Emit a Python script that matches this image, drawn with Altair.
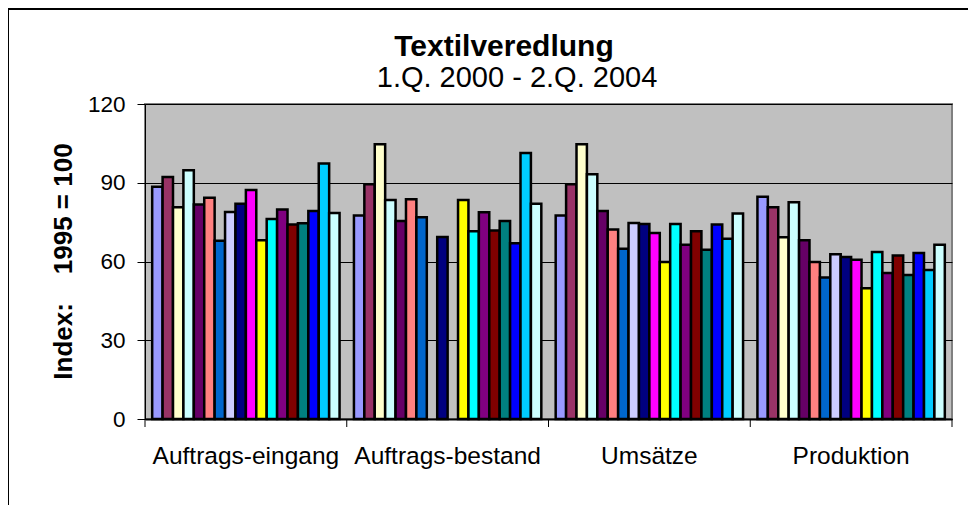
import altair as alt
import pandas as pd

groups = ["Auftrags-eingang", "Auftrags-bestand", "Umsätze", "Produktion"]
quarters = ["1.Q. 2000", "2.Q. 2000", "3.Q. 2000", "4.Q. 2000",
            "1.Q. 2001", "2.Q. 2001", "3.Q. 2001", "4.Q. 2001",
            "1.Q. 2002", "2.Q. 2002", "3.Q. 2002", "4.Q. 2002",
            "1.Q. 2003", "2.Q. 2003", "3.Q. 2003", "4.Q. 2003",
            "1.Q. 2004", "2.Q. 2004"]
colors = ["#9999FF", "#993366", "#FFFFCC", "#CCFFFF", "#660066", "#FF8080",
          "#0066CC", "#CCCCFF", "#000080", "#FF00FF", "#FFFF00", "#00FFFF",
          "#800080", "#800000", "#008080", "#0000FF", "#00CCFF", "#CCFFFF"]

auftragseingang = [88.5, 92.2, 80.7, 94.8, 81.7, 84.3, 67.9, 78.9, 82.0,
                   87.2, 68.1, 76.2, 79.8, 74.1, 74.6, 79.2, 97.3, 78.5]
auftragsbestand = [77.5, 89.4, 104.7, 83.4, 75.4, 83.7, 76.9, None, 69.3,
                   None, 83.4, 71.5, 78.8, 71.8, 75.4, 67.0, 101.3, 82.0]
umsaetze = [77.5, 89.4, 104.7, 93.2, 79.2, 72.2, 64.9, 74.7, 74.3,
            70.9, 59.8, 74.3, 66.4, 71.5, 64.5, 74.1, 68.7, 78.3]
produktion = [84.7, 80.7, 69.2, 82.6, 68.1, 59.8, 53.9, 62.8, 61.7,
              60.7, 49.8, 63.6, 55.6, 62.3, 54.9, 63.2, 56.8, 66.4]

series = [auftragseingang, auftragsbestand, umsaetze, produktion]
rows = []
for g, vals in zip(groups, series):
    for q, v in zip(quarters, vals):
        if v is not None:
            rows.append({"group": g, "quarter": q, "value": v})
df = pd.DataFrame(rows)

W, H = 807, 315
FONT = "Liberation Sans"

xscale = alt.Scale(domain=groups, paddingInner=0, paddingOuter=0)

bars = alt.Chart(df).mark_bar(stroke="black", strokeWidth=2.5).encode(
    x=alt.X("group:N", scale=xscale, sort=groups,
            axis=alt.Axis(title=None, labelAngle=0, ticks=False, labelPadding=44,
                          labelBaseline="alphabetic",
                          labelFontSize=24.5, labelFont=FONT, labelColor="black",
                          domainColor="black", domainWidth=2, labelLimit=400)),
    xOffset=alt.XOffset("quarter:N", sort=quarters,
                        scale=alt.Scale(domain=quarters, paddingOuter=0.69, paddingInner=0)),
    y=alt.Y("value:Q", scale=alt.Scale(domain=[0, 120], nice=False),
            axis=alt.Axis(values=[0, 30, 60, 90, 120], grid=True, gridColor="black",
                          gridWidth=1, tickColor="black", tickSize=8,
                          domainColor="black", domainWidth=1,
                          labelFontSize=22.5, labelFont=FONT, labelColor="black",
                          labelPadding=12,
                          title="Index:\u00a0\u00a0\u00a0\u00a01995 = 100",
                          titleFont=FONT, titleFontSize=26, titleFontWeight="bold",
                          titleColor="black", titleAngle=-90,
                          titleX=-82, titleY=157, titleAlign="center",
                          titleBaseline="middle")),
    color=alt.Color("quarter:N", scale=alt.Scale(domain=quarters, range=colors),
                    legend=None),
)

gdf = pd.DataFrame({"group": groups})
xticks = alt.Chart(gdf).mark_rule(color="black", strokeWidth=1).encode(
    x=alt.X("group:N", scale=xscale, sort=groups, bandPosition=0),
    y=alt.value(H), y2=alt.value(H + 8),
)
last_tick = alt.Chart(alt.Data(values=[{}])).mark_rule(color="black", strokeWidth=1).encode(
    x=alt.value(W), y=alt.value(H), y2=alt.value(H + 8),
)

border = alt.Chart(alt.Data(values=[{}])).mark_rect(
    fill=None, stroke="black", strokeWidth=2, clip=False).encode(
    x=alt.value(-137), y=alt.value(-95), x2=alt.value(W + 40), y2=alt.value(H + 120),
)

title = alt.Chart(alt.Data(values=[{}])).mark_text(
    font=FONT, fontSize=30, fontWeight="bold", color="black", align="center",
    baseline="alphabetic").encode(
    x=alt.value(359), y=alt.value(-48), text=alt.value("Textilveredlung"))
subtitle = alt.Chart(alt.Data(values=[{}])).mark_text(
    font=FONT, fontSize=29, color="black", align="center",
    baseline="alphabetic").encode(
    x=alt.value(372), y=alt.value(-17), text=alt.value("1.Q. 2000 - 2.Q. 2004"))

chart = alt.layer(border, bars, xticks, last_tick, title, subtitle).properties(
    width=W, height=H,
    background="white",
    autosize=alt.AutoSizeParams(type="none"),
    padding={"left": 137, "top": 96, "right": 16, "bottom": 86},
).configure_view(
    fill="#C0C0C0", stroke="#808080", strokeWidth=2
)

chart.save("out.html", embed_options={"renderer": "svg", "actions": False})
